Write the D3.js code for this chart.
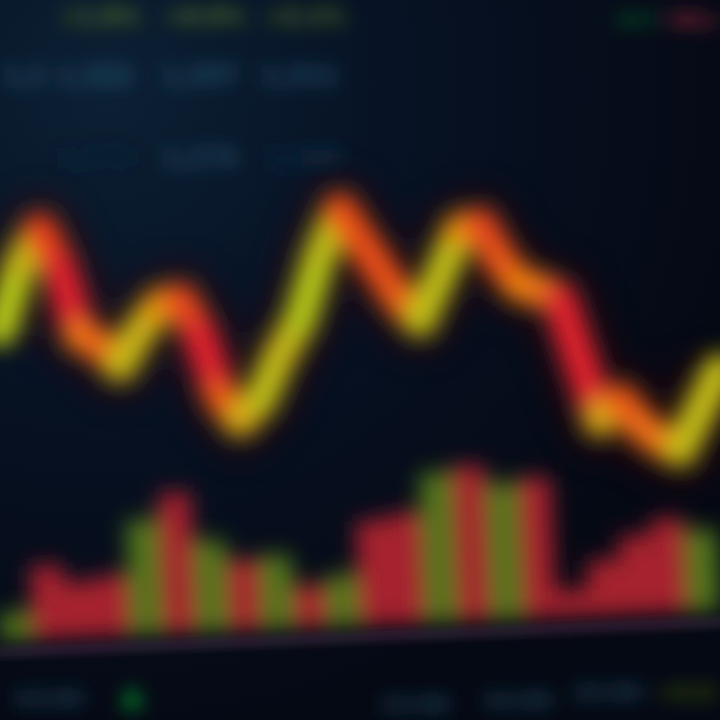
<!DOCTYPE html>
<html><head><meta charset="utf-8">
<script src="https://cdn.jsdelivr.net/npm/d3@7"></script>
<style>html,body{margin:0;padding:0;background:#060b17;}svg{display:block}</style>
</head><body>
<svg id="c" width="720" height="720"></svg>
<script>
// ---- data ----
const times = ["09:30","09:40","09:50","10:00","10:10","10:20","10:30","10:40","10:50","11:00",
  "11:10","11:20","11:30","11:40","11:50","12:00","12:10","12:20","12:30","12:40",
  "12:50","13:00","13:10","13:20","13:30","13:40","13:50","14:00","14:10","14:20",
  "14:30","14:40","14:50","15:00","15:10","15:20","15:30"];
const prices = [150,171.7,183.3,170,148.3,145,138.3,150,158.3,160,
  148.3,128.3,120,126.7,141.7,153.3,175,190,180,170,
  160,153.3,168.3,183.3,185,173.3,165,163.3,160,140,
  120,126.7,118.3,113.3,110,123.3,136.7];
const volSlots = ["v01","v02","v03","v04","v05","v06","v07","v08","v09","v10","v11",
  "v12","v13","v14","v15","v16","v17","v18","v19","v20","v21","v22"];
const volumes = [270,730,550,600,1140,1400,910,700,730,420,510,
  1040,1100,1490,1550,1360,1400,260,550,780,940,810];
const volUp = [1,0,0,0,1,0,1,0,1,0,1, 0,0,1,0,1,0,0,0,0,0,1];
const topRow = ["+1.8%","+0.9%","+2.1%"];
const midRow1 = ["1,2","1,302","1,297","1,311"];
const midRow2 = ["1,276","1,289","1,270"];
const bottomRow = ["10:00","13:00","14:00","15:00"];
const badges = ["BUY","SELL"];

// ---- drawing ----
const svg = d3.select("#c");
const W = 720, H = 720;
const defs = svg.append("defs");
const bg = defs.append("radialGradient").attr("id","bg").attr("cx","0.15").attr("cy","0.12").attr("r","0.9");
bg.append("stop").attr("offset","0").attr("stop-color","#0c2034");
bg.append("stop").attr("offset","0.45").attr("stop-color","#071224");
bg.append("stop").attr("offset","1").attr("stop-color","#050914");
function blur(id, s){
  defs.append("filter").attr("id",id).attr("filterUnits","userSpaceOnUse")
    .attr("x",-100).attr("y",-100).attr("width",920).attr("height",920)
    .append("feGaussianBlur").attr("stdDeviation",s);
}
blur("b5",5); blur("b9",9); blur("b11",11); blur("b16",16);

svg.append("rect").attr("width",W).attr("height",H).attr("fill","url(#bg)");

// labels
const tg = svg.append("g").attr("filter","url(#b9)").attr("font-family","DejaVu Sans").attr("font-weight","bold");
tg.selectAll("text.t").data(topRow).join("text").attr("class","t")
  .attr("x",(d,i)=>[100,205,305][i]).attr("y",24).attr("text-anchor","middle")
  .attr("font-size",22).attr("fill","#607e1c").text(d=>d);
tg.selectAll("text.m1").data(midRow1).join("text").attr("class","m1")
  .attr("x",(d,i)=>[3,95,200,300][i]).attr("y",84).attr("text-anchor",(d,i)=>i?"middle":"start")
  .attr("font-size",24).attr("fill","#24536c").text(d=>d);
tg.selectAll("text.m2").data(midRow2).join("text").attr("class","m2")
  .attr("x",(d,i)=>[200,305,95][i]).attr("y",166).attr("text-anchor","middle")
  .attr("font-size",24).attr("fill",(d,i)=>i==0?"#214c64":(i==1?"#12304a":"#0d2436")).text(d=>d);
tg.selectAll("text.b").data(bottomRow).join("text").attr("class","b")
  .attr("x",(d,i)=>[48,415,517,607][i]).attr("y",(d,i)=>[706,712,708,700][i]).attr("text-anchor","middle")
  .attr("font-size",22).attr("fill","#1f465c").text(d=>d);
tg.selectAll("text.g").data(badges).join("text").attr("class","g")
  .attr("x",(d,i)=>[638,718][i]).attr("y",26).attr("text-anchor",(d,i)=>i?"end":"middle")
  .attr("font-size",18).attr("fill",(d,i)=>i?"#b02a40":"#0e5a20").text(d=>d);
tg.append("text").attr("x",132).attr("y",704).attr("text-anchor","middle").attr("font-size",30).attr("fill","#0a8a2c").text("▲");
tg.append("text").attr("x",714).attr("y",700).attr("text-anchor","end").attr("font-size",22).attr("fill","#3a5a10").text("+0.6");

// volume bars
const xb = d3.scaleBand(volSlots,[0,W]).paddingInner(0.02);
const hv = d3.scaleLinear([0,1600],[0,160]);
const base = 625;
const vg = svg.append("g").attr("transform",`rotate(-2.4,360,${base})`);
vg.append("g").attr("filter","url(#b11)").selectAll("rect").data(volumes).join("rect")
  .attr("x",(d,i)=>xb(volSlots[i])).attr("width",xb.bandwidth())
  .attr("y",d=>base-hv(d)).attr("height",d=>hv(d))
  .attr("fill",(d,i)=>volUp[i]?"#52761c":"#a8242e");
vg.append("line").attr("x1",-20).attr("x2",W+20).attr("y1",base+12).attr("y2",base+12)
  .attr("stroke","#34283f").attr("stroke-width",6).attr("filter","url(#b5)");

// price line
const x = d3.scalePoint(times,[0,W]);
const y = d3.scaleLinear([100,200],[480,180]);
const col = d3.scaleLinear([-20,-10,0,8,20],["#e0222e","#ea5018","#f08a10","#cdb014","#b4c814"]).clamp(true);
const segs = d3.pairs(prices.map((p,i)=>({t:times[i],p})));
const lg = svg.append("g");
lg.append("path").datum(prices).attr("fill","none").attr("stroke","#3a0a10").attr("stroke-width",66)
  .attr("stroke-linejoin","round").attr("opacity",0.55).attr("filter","url(#b16)")
  .attr("d",d3.line((d,i)=>x(times[i]),d=>y(d)));
const sg = lg.append("g").attr("filter","url(#b11)");
sg.selectAll("line").data(segs).join("line")
  .attr("x1",d=>x(d[0].t)).attr("y1",d=>y(d[0].p))
  .attr("x2",d=>x(d[1].t)).attr("y2",d=>y(d[1].p))
  .attr("stroke",d=>col(d[1].p-d[0].p)).attr("stroke-width",33).attr("stroke-linecap","round");
</script>
</body></html>
